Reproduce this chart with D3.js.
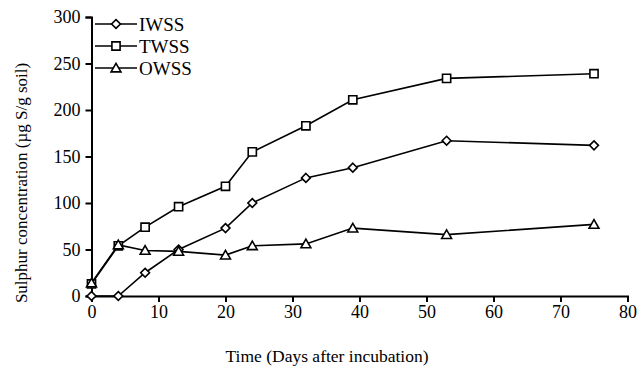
<!DOCTYPE html>
<html>
<head>
<meta charset="utf-8">
<script src="https://cdn.jsdelivr.net/npm/d3@7"></script>
<style>
  body { margin: 0; background: #fff; }
  svg text { font-family: "Liberation Serif", "Times New Roman", serif; fill: #000; }
</style>
</head>
<body>
<svg id="chart" width="637" height="369"></svg>
<script>
// days after incubation
const days = [0, 4, 8, 13, 20, 24, 32, 39, 53, 75];
const iwss = [0, 0, 25, 50, 73, 100, 127, 138, 167, 162];
const twss = [13, 54, 74, 96, 118, 155, 183, 211, 234, 239];
const owss = [14, 55, 49, 48, 44, 54, 56, 73, 66, 77];
const xTicks = [0, 10, 20, 30, 40, 50, 60, 70, 80];
const yTicks = [0, 50, 100, 150, 200, 250, 300];

const series = [
  { name: "IWSS", values: iwss, shape: "diamond" },
  { name: "TWSS", values: twss, shape: "square" },
  { name: "OWSS", values: owss, shape: "triangle" }
];

const svg = d3.select("#chart");
const x = d3.scaleLinear().domain([0, 80]).range([91.5, 627.5]);
const y = d3.scaleLinear().domain([0, 300]).range([296, 17]);

// axes
const gx = svg.append("g")
  .attr("transform", `translate(0,${y(0)})`)
  .call(d3.axisBottom(x).tickValues(xTicks).tickSize(6).tickPadding(3));
const gy = svg.append("g")
  .attr("transform", `translate(${x(0)},0)`)
  .call(d3.axisLeft(y).tickValues(yTicks).tickSize(6).tickPadding(5));

[gx, gy].forEach(g => {
  g.attr("font-size", null).attr("font-family", null);
  g.select(".domain").attr("stroke", "#000").attr("stroke-width", 2);
  g.selectAll(".tick line").attr("stroke", "#000").attr("stroke-width", 2);
  g.selectAll(".tick text").style("font-size", "18px");
});

// axis titles
svg.append("text")
  .attr("x", 327).attr("y", 362)
  .attr("text-anchor", "middle")
  .style("font-size", "17.5px")
  .text("Time (Days after incubation)");

svg.append("text")
  .attr("transform", "translate(26.5,183) rotate(-90)")
  .attr("text-anchor", "middle")
  .style("font-size", "17px")
  .text("Sulphur concentration (µg S/g soil)");

const symbolFor = {
  diamond: d3.symbol().type(d3.symbolDiamond2).size(50),
  square: d3.symbol().type(d3.symbolSquare2).size(85),
  triangle: d3.symbol().type(d3.symbolTriangle2).size(70)
};

const line = d3.line()
  .x((d, i) => x(days[i]))
  .y(d => y(d));

series.forEach(s => {
  svg.append("path")
    .datum(s.values)
    .attr("d", line)
    .attr("fill", "none")
    .attr("stroke", "#000")
    .attr("stroke-width", 1.6);

  svg.selectAll(null)
    .data(s.values)
    .enter()
    .append("path")
    .attr("transform", (d, i) => `translate(${x(days[i])},${y(d) + (s.shape === "triangle" ? 1 : 0)})`)
    .attr("d", symbolFor[s.shape])
    .attr("fill", "#fff")
    .attr("stroke", "#000")
    .attr("stroke-width", 1.6);
});

// legend
const legend = svg.append("g");
const rowY = [24, 46, 68];
series.forEach((s, i) => {
  legend.append("line")
    .attr("x1", 95).attr("x2", 137)
    .attr("y1", rowY[i]).attr("y2", rowY[i])
    .attr("stroke", "#000").attr("stroke-width", 1.6);
  legend.append("path")
    .attr("transform", `translate(116,${rowY[i] + (s.shape === "triangle" ? 1 : 0)})`)
    .attr("d", symbolFor[s.shape])
    .attr("fill", "#fff")
    .attr("stroke", "#000")
    .attr("stroke-width", 1.6);
  legend.append("text")
    .attr("x", 139).attr("y", rowY[i] + 6.5)
    .style("font-size", "19px")
    .text(s.name);
});
</script>
</body>
</html>
